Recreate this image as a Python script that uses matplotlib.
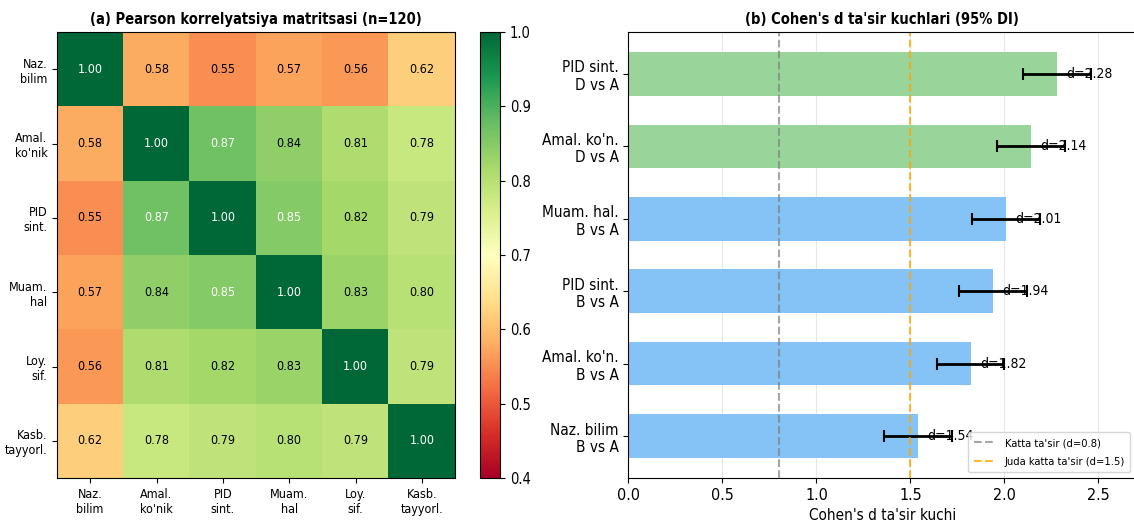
import matplotlib
matplotlib.use("Agg")
import matplotlib.pyplot as plt
import numpy as np

plt.rcParams['font.family'] = ['DejaVu Sans']
plt.rcParams['font.stretch'] = 'condensed'

# Korrelyatsiya matritsasi
variables = ['Naz.\nbilim', "Amal.\nko'nik", 'PID\nsint.', 'Muam.\nhal', 'Loy.\nsif.', 'Kasb.\ntayyorl.']
corr = [
    [1.00, 0.58, 0.55, 0.57, 0.56, 0.62],
    [0.58, 1.00, 0.87, 0.84, 0.81, 0.78],
    [0.55, 0.87, 1.00, 0.85, 0.82, 0.79],
    [0.57, 0.84, 0.85, 1.00, 0.83, 0.80],
    [0.56, 0.81, 0.82, 0.83, 1.00, 0.79],
    [0.62, 0.78, 0.79, 0.80, 0.79, 1.00],
]

# Cohen's d (pastdan yuqoriga)
effect_labels = ['Naz. bilim\nB vs A', "Amal. ko'n.\nB vs A", 'PID sint.\nB vs A',
                 'Muam. hal.\nB vs A', "Amal. ko'n.\nD vs A", 'PID sint.\nD vs A']
d_values = [1.54, 1.82, 1.94, 2.01, 2.14, 2.28]
ci_low = [1.36, 1.64, 1.76, 1.83, 1.96, 2.10]
ci_high = [1.72, 2.00, 2.12, 2.19, 2.32, 2.46]
groups = ['B', 'B', 'B', 'B', 'D', 'D']

fig = plt.figure(figsize=(11.34, 5.23), dpi=100)
W, H = 1134, 523

# (a) heatmap
ax1 = fig.add_axes([57 / W, 45 / H, 398 / W, 446 / H])
cax = fig.add_axes([480 / W, 45 / H, 20 / W, 446 / H])
m = np.array(corr)
im = ax1.imshow(m, cmap='RdYlGn', vmin=0.4, vmax=1.0, aspect='auto')
ax1.set_xticks(range(len(variables)))
ax1.set_yticks(range(len(variables)))
ax1.set_xticklabels(variables, fontsize=9)
ax1.set_yticklabels(variables, fontsize=9)
for i in range(m.shape[0]):
    for j in range(m.shape[1]):
        c = 'white' if m[i, j] >= 0.85 else 'black'
        ax1.text(j, i, f'{m[i, j]:.2f}', ha='center', va='center', color=c, fontsize=9)
ax1.set_title('(a) Pearson korrelyatsiya matritsasi (n=120)', fontsize=10.5, fontweight='bold')
cb = fig.colorbar(im, cax=cax)
cb.ax.tick_params(labelsize=10.5)

# (b) ta'sir kuchlari
ax2 = fig.add_axes([628.4 / W, 45 / H, (1136 - 628.4) / W, 446 / H])
y = np.arange(len(d_values))
colors = ['#99d49b' if g == 'D' else '#85c2f5' for g in groups]
ax2.barh(y, d_values, height=0.6, color=colors)
d = np.array(d_values)
xerr = [d - np.array(ci_low), np.array(ci_high) - d]
ax2.errorbar(d, y, xerr=xerr, fmt='none', ecolor='black', capsize=4, elinewidth=2, capthick=1.5)
for yi, dv in zip(y, d_values):
    ax2.text(dv + 0.05, yi, f'd={dv:.2f}', va='center', fontsize=10)
ax2.axvline(0.8, color='gray', linestyle='--', alpha=0.7, label="Katta ta'sir (d=0.8)")
ax2.axvline(1.5, color='orange', linestyle='--', alpha=0.8, label="Juda katta ta'sir (d=1.5)")
ax2.set_yticks(y)
ax2.set_yticklabels(effect_labels, fontsize=11)
ax2.set_xlim(0, 2.7)
ax2.tick_params(axis='x', labelsize=11.5)
ax2.set_xlabel("Cohen's d ta'sir kuchi", fontsize=11)
ax2.set_title("(b) Cohen's d ta'sir kuchlari (95% DI)", fontsize=10.5, fontweight='bold')
ax2.grid(axis='x', alpha=0.3)
ax2.set_axisbelow(True)
ax2.legend(loc='lower right', fontsize=8, labelspacing=0.8, borderpad=0.5)

fig.savefig('out.png', dpi=100)
